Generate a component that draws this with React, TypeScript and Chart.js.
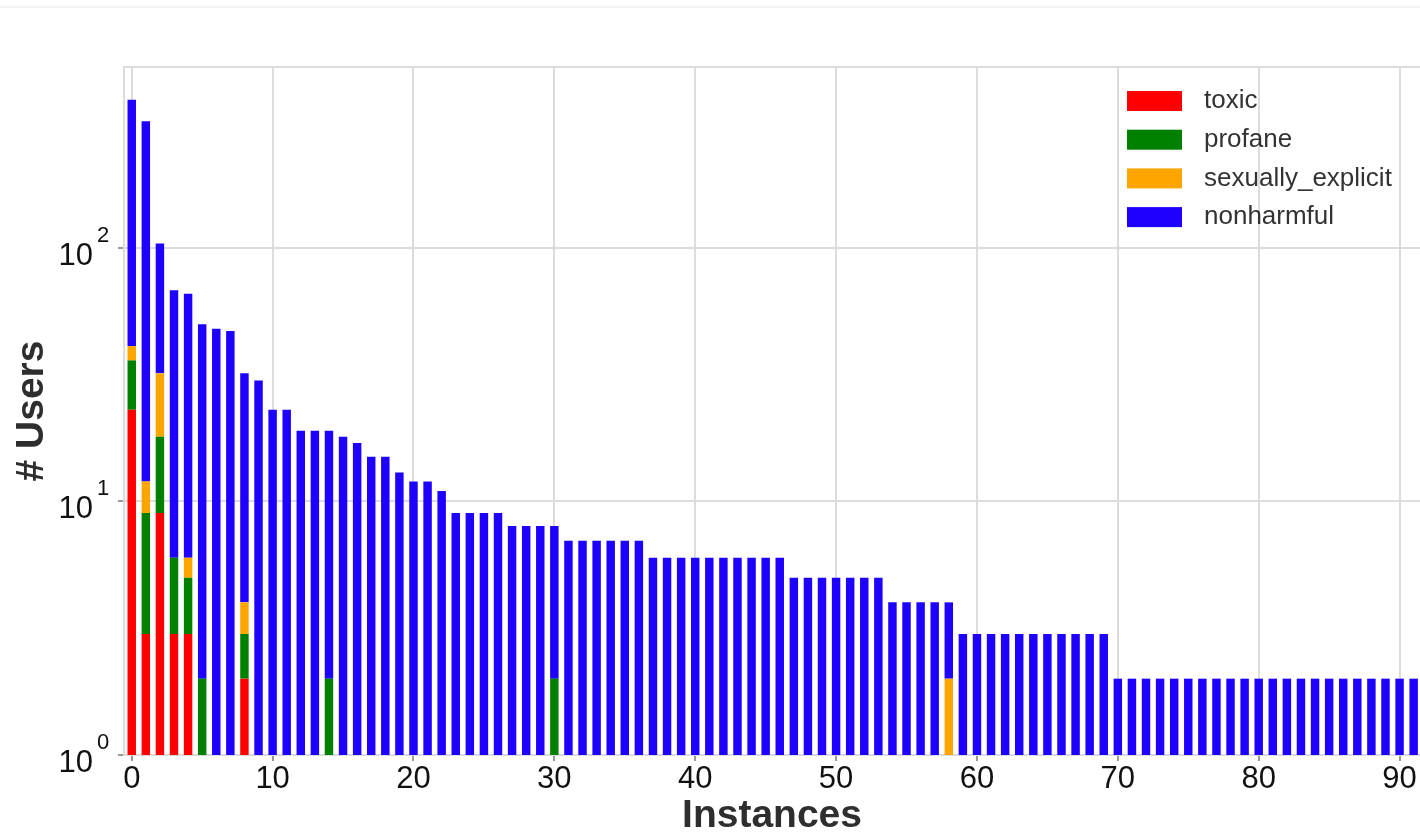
import React, { useEffect, useRef } from "react";
import { Chart, registerables } from "chart.js";

Chart.register(...registerables);

// Number of instances per user (x) and how many users fall in each bucket (y).
const instances = [
  0, 1, 2, 3, 4, 5, 6, 7, 8, 9,
  10, 11, 12, 13, 14, 15, 16, 17, 18, 19,
  20, 21, 22, 23, 24, 25, 26, 27, 28, 29,
  30, 31, 32, 33, 34, 35, 36, 37, 38, 39,
  40, 41, 42, 43, 44, 45, 46, 47, 48, 49,
  50, 51, 52, 53, 54, 55, 56, 57, 58, 59,
  60, 61, 62, 63, 64, 65, 66, 67, 68, 69,
  70, 71, 72, 73, 74, 75, 76, 77, 78, 79,
  80, 81, 82, 83, 84, 85, 86, 87, 88, 89,
  90, 91,
];

const toxic = [
  23, 3, 9, 3, 3, 0, 0, 0, 2, 0,
  0, 0, 0, 0, 0, 0, 0, 0, 0, 0,
  0, 0, 0, 0, 0, 0, 0, 0, 0, 0,
  0, 0, 0, 0, 0, 0, 0, 0, 0, 0,
  0, 0, 0, 0, 0, 0, 0, 0, 0, 0,
  0, 0, 0, 0, 0, 0, 0, 0, 0, 0,
  0, 0, 0, 0, 0, 0, 0, 0, 0, 0,
  0, 0, 0, 0, 0, 0, 0, 0, 0, 0,
  0, 0, 0, 0, 0, 0, 0, 0, 0, 0,
  0, 0,
];

const profane = [
  13, 6, 9, 3, 2, 2, 0, 0, 1, 0,
  0, 0, 0, 0, 2, 0, 0, 0, 0, 0,
  0, 0, 0, 0, 0, 0, 0, 0, 0, 0,
  2, 0, 0, 0, 0, 0, 0, 0, 0, 0,
  0, 0, 0, 0, 0, 0, 0, 0, 0, 0,
  0, 0, 0, 0, 0, 0, 0, 0, 0, 0,
  0, 0, 0, 0, 0, 0, 0, 0, 0, 0,
  0, 0, 0, 0, 0, 0, 0, 0, 0, 0,
  0, 0, 0, 0, 0, 0, 0, 0, 0, 0,
  0, 0,
];

const sexuallyExplicit = [
  5, 3, 14, 0, 1, 0, 0, 0, 1, 0,
  0, 0, 0, 0, 0, 0, 0, 0, 0, 0,
  0, 0, 0, 0, 0, 0, 0, 0, 0, 0,
  0, 0, 0, 0, 0, 0, 0, 0, 0, 0,
  0, 0, 0, 0, 0, 0, 0, 0, 0, 0,
  0, 0, 0, 0, 0, 0, 0, 0, 2, 0,
  0, 0, 0, 0, 0, 0, 0, 0, 0, 0,
  0, 0, 0, 0, 0, 0, 0, 0, 0, 0,
  0, 0, 0, 0, 0, 0, 0, 0, 0, 0,
  0, 0,
];

const nonharmful = [
  343, 304, 72, 62, 60, 48, 48, 47, 28, 30,
  23, 23, 19, 19, 17, 18, 17, 15, 15, 13,
  12, 12, 11, 9, 9, 9, 9, 8, 8, 8,
  6, 7, 7, 7, 7, 7, 7, 6, 6, 6,
  6, 6, 6, 6, 6, 6, 6, 5, 5, 5,
  5, 5, 5, 5, 4, 4, 4, 4, 2, 3,
  3, 3, 3, 3, 3, 3, 3, 3, 3, 3,
  2, 2, 2, 2, 2, 2, 2, 2, 2, 2,
  2, 2, 2, 2, 2, 2, 2, 2, 2, 2,
  2, 2,
];

const seriesNames = ["toxic", "profane", "sexually_explicit", "nonharmful"];
const seriesColors = ["#ff0000", "#008000", "#ffa500", "#1e00ff"];
const seriesValues = [toxic, profane, sexuallyExplicit, nonharmful];

const xTickValues = [0, 10, 20, 30, 40, 50, 60, 70, 80, 90];
const yTickValues = [1, 10, 100];

const xTitle = "Instances";
const yTitle = "# Users";

const FONT = '"Liberation Sans", Arial, Helvetica, sans-serif';
const GRID = "#dcdcdc";

// Faint rule across the top of the figure and the top spine of the axes.
const framePlugin = {
  id: "frameLines",
  beforeDraw(chart: any) {
    const { ctx, chartArea, width } = chart;
    ctx.save();
    ctx.strokeStyle = "#f3f3f3";
    ctx.lineWidth = 2;
    ctx.beginPath();
    ctx.moveTo(0, 7);
    ctx.lineTo(width, 7);
    ctx.stroke();
    ctx.strokeStyle = GRID;
    ctx.lineWidth = 2;
    ctx.beginPath();
    ctx.moveTo(chartArea.left, chartArea.top);
    ctx.lineTo(chartArea.right, chartArea.top);
    ctx.stroke();
    ctx.restore();
  },
};

// Powers of ten on the y axis, written as base + raised exponent.
const powerTickPlugin = {
  id: "powerTicks",
  afterDraw(chart: any) {
    const { ctx } = chart;
    const y = chart.scales.y;
    const right = y.right;
    ctx.save();
    ctx.fillStyle = "#111111";
    ctx.textBaseline = "alphabetic";
    yTickValues.forEach((v) => {
      const py = y.getPixelForValue(v);
      const exponent = String(Math.round(Math.log10(v)));
      ctx.font = `31px ${FONT}`;
      ctx.textAlign = "right";
      ctx.fillText("10", right - 31, py + 17);
      ctx.font = `22px ${FONT}`;
      ctx.textAlign = "left";
      ctx.fillText(exponent, right - 27, py - 6);
    });
    ctx.restore();
  },
};

// Legend in the upper-right corner of the plotting area, without a frame.
const cornerLegendPlugin = {
  id: "cornerLegend",
  afterDraw(chart: any) {
    const { ctx, chartArea } = chart;
    const x0 = chartArea.right - 293;
    const y0 = chartArea.top + 24;
    ctx.save();
    seriesNames.forEach((name, i) => {
      const top = y0 + i * 38.7;
      ctx.fillStyle = seriesColors[i];
      ctx.fillRect(x0, top, 55, 20);
      ctx.fillStyle = "#333333";
      ctx.font = `26px ${FONT}`;
      ctx.textAlign = "left";
      ctx.textBaseline = "middle";
      ctx.fillText(name, x0 + 77, top + 10);
    });
    ctx.restore();
  },
};

export default function App() {
  const canvasRef = useRef<HTMLCanvasElement | null>(null);

  useEffect(() => {
    document.body.style.margin = "0";
    document.body.style.overflow = "hidden";
    const canvas = canvasRef.current;
    if (!canvas) return;

    const chart = new Chart(canvas, {
      type: "bar",
      data: {
        labels: instances,
        datasets: seriesNames.map((name, i) => ({
          label: name,
          data: seriesValues[i],
          backgroundColor: seriesColors[i],
          borderWidth: 0,
          barPercentage: 0.6,
          categoryPercentage: 1,
        })),
      },
      options: {
        responsive: false,
        animation: false,
        events: [],
        layout: { padding: { top: 67, left: 0, right: 0, bottom: 0 } },
        plugins: {
          legend: { display: false },
          tooltip: { enabled: false },
          title: { display: false },
        },
        scales: {
          x: {
            type: "linear",
            stacked: true,
            offset: false,
            min: -0.55,
            max: 91.45,
            afterBuildTicks: (scale: any) => {
              scale.ticks = xTickValues.map((v) => ({ value: v }));
            },
            afterFit: (scale: any) => {
              scale.height = 81;
            },
            ticks: {
              autoSkip: false,
              maxRotation: 0,
              padding: 0,
              color: "#111111",
              font: { family: FONT, size: 31 },
              callback: (v: any) => String(v),
            },
            grid: {
              offset: false,
              color: GRID,
              lineWidth: 2,
              drawTicks: true,
              tickLength: 6,
              tickColor: "#777777",
              tickWidth: 1.5,
            },
            border: { display: true, color: GRID, width: 2 },
            title: {
              display: true,
              text: xTitle,
              color: "#2e2e2e",
              font: { family: FONT, size: 39, weight: "bold", lineHeight: 1 },
              padding: { top: 0, bottom: 0 },
            },
          },
          y: {
            type: "logarithmic",
            stacked: true,
            min: 1,
            max: 517,
            afterBuildTicks: (scale: any) => {
              scale.ticks = yTickValues.map((v) => ({ value: v, major: true }));
            },
            afterFit: (scale: any) => {
              scale.width = 124;
            },
            ticks: {
              callback: () => "",
              padding: 0,
            },
            grid: {
              color: GRID,
              lineWidth: 2,
              drawTicks: true,
              tickLength: 6,
              tickColor: "#777777",
              tickWidth: 1.5,
            },
            border: { display: true, color: GRID, width: 2 },
            title: {
              display: true,
              text: yTitle,
              color: "#2e2e2e",
              font: { family: FONT, size: 39, weight: "bold", lineHeight: 1 },
              padding: { top: 13, bottom: 0 },
            },
          },
        },
      },
      plugins: [framePlugin, powerTickPlugin, cornerLegendPlugin],
    } as any);

    return () => chart.destroy();
  }, []);

  return (
    <canvas
      ref={canvasRef}
      width={1420}
      height={836}
      style={{ display: "block", width: 1420, height: 836 }}
    />
  );
}
